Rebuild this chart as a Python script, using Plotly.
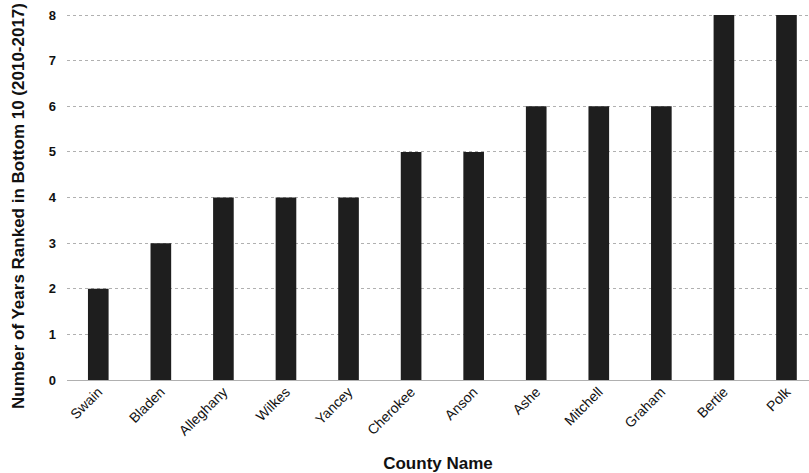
import plotly.graph_objects as go

counties = ["Swain", "Bladen", "Alleghany", "Wilkes", "Yancey", "Cherokee",
            "Anson", "Ashe", "Mitchell", "Graham", "Bertie", "Polk"]
years = [2, 3, 4, 4, 4, 5, 5, 6, 6, 6, 8, 8]
y_ticks = [0, 1, 2, 3, 4, 5, 6, 7, 8]

fig = go.Figure(go.Bar(
    x=counties, y=years, width=0.33,
    marker=dict(color="#1e1e1e", line=dict(width=0)),
))

fig.update_layout(
    width=809, height=473,
    margin=dict(l=67, r=0, t=0, b=93, autoexpand=False),
    paper_bgcolor="white", plot_bgcolor="white",
    font=dict(family="Liberation Sans, Arial", color="#111"),
    showlegend=False,
    bargap=0.67,
    annotations=[dict(
        text="<b>Number of Years Ranked in Bottom 10 (2010-2017)</b>",
        textangle=-90, font=dict(size=17, color="#111"),
        xref="paper", yref="paper", x=0, y=0.458,
        xanchor="center", yanchor="middle", xshift=-48, showarrow=False,
    )],
)
fig.update_xaxes(
    range=[-0.5, 11.36], tickangle=-45, showgrid=False,
    tickfont=dict(size=14), ticks="",
    title=dict(text="<b>County Name</b>", font=dict(size=17), standoff=20),
    showline=False, zeroline=False, automargin=False,
)
fig.update_yaxes(
    range=[0, 8.33], tickvals=y_ticks,
    ticktext=["<b>%d</b>" % v for v in y_ticks],
    tickfont=dict(size=13),
    showgrid=True, gridcolor="#b0b0b0", griddash="dot", gridwidth=1,
    zeroline=True, zerolinecolor="#b0b0b0", zerolinewidth=1,
    ticks="", ticklabelstandoff=10, automargin=False,
)

fig.write_html("out.html", config={"displayModeBar": False},
               post_script="document.body.style.margin='0';")
